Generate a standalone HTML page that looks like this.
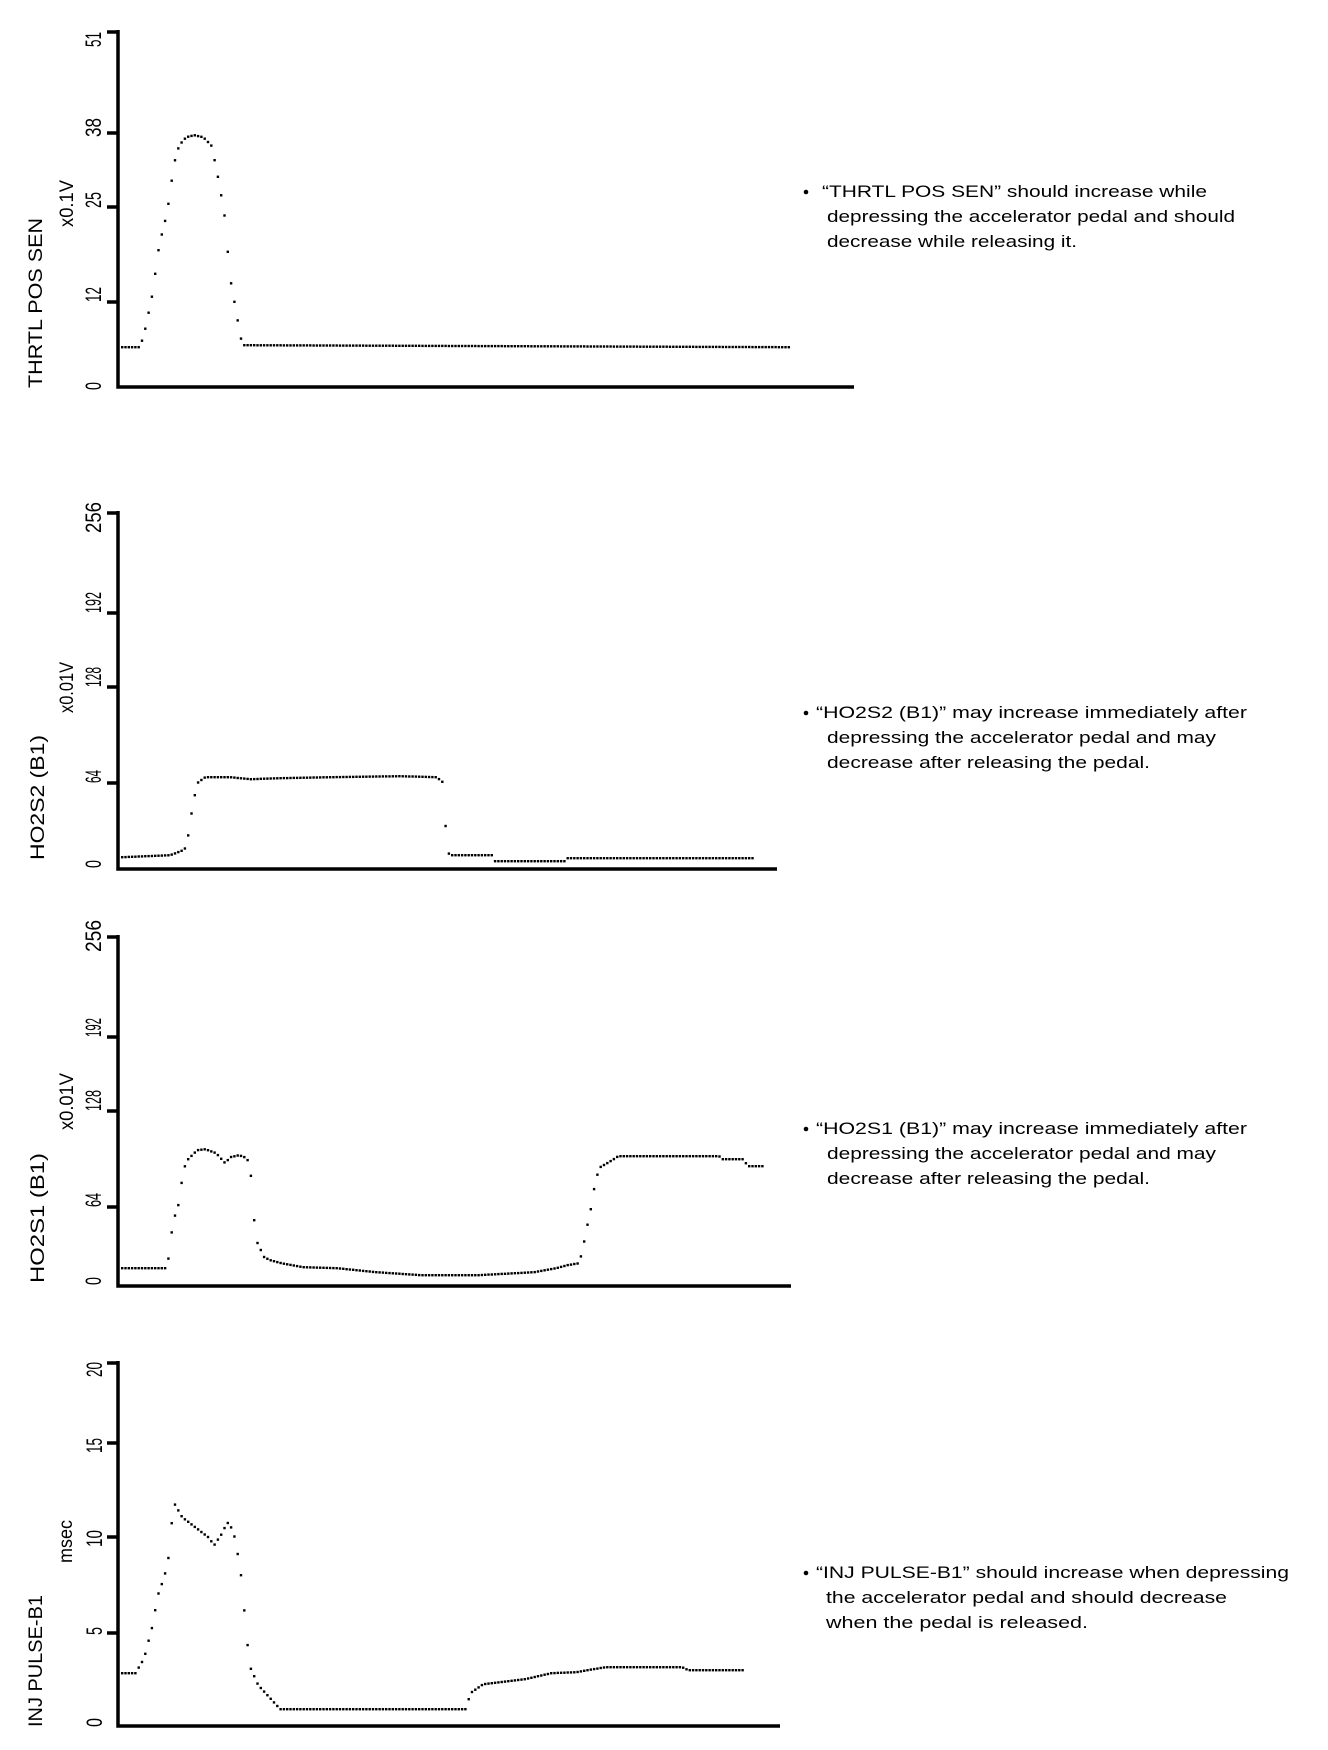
<!DOCTYPE html>
<html><head><meta charset="utf-8"><style>
html,body{margin:0;padding:0;background:#fff;}
svg{display:block;}
text{font-family:"Liberation Sans",sans-serif;fill:#000;}
</style></head><body>
<svg id="s" width="1328" height="1750" viewBox="0 0 1328 1750" xmlns="http://www.w3.org/2000/svg">
<g stroke="#000" stroke-width="3.5" fill="none">
<path d="M118,30 V387 H854 M107,32 H118 M107,133 H118 M107,207 H118 M107,302 H118"/>
<path d="M118,511 V869 H777 M107,513 H118 M107,613 H118 M107,687 H118 M107,783 H118"/>
<path d="M118,935 V1286 H791 M107,937 H118 M107,1037 H118 M107,1111 H118 M107,1207 H118"/>
<path d="M118,1361 V1726 H780 M107,1363 H118 M107,1443 H118 M107,1537 H118 M107,1633 H118"/>
</g>
<g font-size="22">
<text transform="translate(101,47) rotate(-90)" textLength="15" lengthAdjust="spacingAndGlyphs">51</text>
<text transform="translate(101,137) rotate(-90)" textLength="19" lengthAdjust="spacingAndGlyphs">38</text>
<text transform="translate(101,208) rotate(-90)" textLength="16" lengthAdjust="spacingAndGlyphs">25</text>
<text transform="translate(101,302) rotate(-90)" textLength="15" lengthAdjust="spacingAndGlyphs">12</text>
<text transform="translate(101,390) rotate(-90)" textLength="8" lengthAdjust="spacingAndGlyphs">0</text>
<text transform="translate(101,533) rotate(-90)" textLength="31" lengthAdjust="spacingAndGlyphs">256</text>
<text transform="translate(101,613) rotate(-90)" textLength="21" lengthAdjust="spacingAndGlyphs">192</text>
<text transform="translate(101,687) rotate(-90)" textLength="20" lengthAdjust="spacingAndGlyphs">128</text>
<text transform="translate(101,783) rotate(-90)" textLength="13" lengthAdjust="spacingAndGlyphs">64</text>
<text transform="translate(101,868) rotate(-90)" textLength="8" lengthAdjust="spacingAndGlyphs">0</text>
<text transform="translate(101,952) rotate(-90)" textLength="32" lengthAdjust="spacingAndGlyphs">256</text>
<text transform="translate(101,1037) rotate(-90)" textLength="19" lengthAdjust="spacingAndGlyphs">192</text>
<text transform="translate(101,1111) rotate(-90)" textLength="21" lengthAdjust="spacingAndGlyphs">128</text>
<text transform="translate(101,1207) rotate(-90)" textLength="14" lengthAdjust="spacingAndGlyphs">64</text>
<text transform="translate(101,1285) rotate(-90)" textLength="8" lengthAdjust="spacingAndGlyphs">0</text>
<text transform="translate(102,1377) rotate(-90)" textLength="15" lengthAdjust="spacingAndGlyphs">20</text>
<text transform="translate(102,1453) rotate(-90)" textLength="15" lengthAdjust="spacingAndGlyphs">15</text>
<text transform="translate(102,1547) rotate(-90)" textLength="17" lengthAdjust="spacingAndGlyphs">10</text>
<text transform="translate(102,1635) rotate(-90)" textLength="8" lengthAdjust="spacingAndGlyphs">5</text>
<text transform="translate(102,1727) rotate(-90)" textLength="9" lengthAdjust="spacingAndGlyphs">0</text>
</g>
<g font-size="19">
<text transform="translate(42,388) rotate(-90)" textLength="170" lengthAdjust="spacingAndGlyphs">THRTL POS SEN</text>
<text transform="translate(73,227) rotate(-90)" textLength="47" lengthAdjust="spacingAndGlyphs">x0.1V</text>
<text transform="translate(44,860) rotate(-90)" textLength="125" lengthAdjust="spacingAndGlyphs">HO2S2 (B1)</text>
<text transform="translate(73,713) rotate(-90)" textLength="51" lengthAdjust="spacingAndGlyphs">x0.01V</text>
<text transform="translate(44,1283) rotate(-90)" textLength="130" lengthAdjust="spacingAndGlyphs">HO2S1 (B1)</text>
<text transform="translate(73,1130) rotate(-90)" textLength="57" lengthAdjust="spacingAndGlyphs">x0.01V</text>
<text transform="translate(42,1727) rotate(-90)" textLength="132" lengthAdjust="spacingAndGlyphs">INJ PULSE-B1</text>
<text transform="translate(72,1563) rotate(-90)" textLength="43" lengthAdjust="spacingAndGlyphs">msec</text>
</g>
<g font-size="17">
<circle cx="806" cy="192" r="2.3"/>
<text x="822" y="197" textLength="385" lengthAdjust="spacingAndGlyphs">“THRTL POS SEN” should increase while</text>
<text x="827" y="222" textLength="408" lengthAdjust="spacingAndGlyphs">depressing the accelerator pedal and should</text>
<text x="827" y="247" textLength="250" lengthAdjust="spacingAndGlyphs">decrease while releasing it.</text>

<circle cx="806" cy="713" r="2.3"/>
<text x="816" y="718" textLength="431" lengthAdjust="spacingAndGlyphs">“HO2S2 (B1)” may increase immediately after</text>
<text x="827" y="743" textLength="389" lengthAdjust="spacingAndGlyphs">depressing the accelerator pedal and may</text>
<text x="827" y="768" textLength="323" lengthAdjust="spacingAndGlyphs">decrease after releasing the pedal.</text>

<circle cx="806" cy="1129" r="2.3"/>
<text x="816" y="1134" textLength="431" lengthAdjust="spacingAndGlyphs">“HO2S1 (B1)” may increase immediately after</text>
<text x="827" y="1159" textLength="389" lengthAdjust="spacingAndGlyphs">depressing the accelerator pedal and may</text>
<text x="827" y="1184" textLength="323" lengthAdjust="spacingAndGlyphs">decrease after releasing the pedal.</text>

<circle cx="806" cy="1573" r="2.3"/>
<text x="816" y="1578" textLength="473" lengthAdjust="spacingAndGlyphs">“INJ PULSE-B1” should increase when depressing</text>
<text x="826" y="1603" textLength="401" lengthAdjust="spacingAndGlyphs">the accelerator pedal and should decrease</text>
<text x="826" y="1628" textLength="262" lengthAdjust="spacingAndGlyphs">when the pedal is released.</text>
</g>
<g id="dots" fill="#000"></g>
</svg>
<script>
var curves=[
[[122,347],[140,347],[145,329],[152,295],[159,245],[167,212],[174,163],[179,145],[186,137],[194,135],[203,137],[211,145],[216,167],[224,212],[230,278],[238,323],[242,345],[791,347]],
[[122,857],[170,855],[183,850],[185,848],[189,831],[191,815],[194,798],[197,783],[205,777],[230,777],[250,779],[280,778],[330,777],[400,776],[436,777],[442,781],[444,793],[445,817],[446,839],[449,855],[492,855],[494,861],[565,861],[567,858],[753,858]],
[[122,1268],[167,1268],[169,1252],[171,1235],[174,1218],[179,1202],[181,1185],[184,1168],[187,1160],[197,1150],[205,1149],[216,1153],[225,1163],[230,1157],[239,1155],[247,1158],[251,1177],[253,1210],[256,1240],[264,1257],[270,1260],[281,1263],[303,1267],[337,1268],[376,1272],[421,1275],[478,1275],[534,1272],[556,1268],[567,1265],[579,1263],[583,1247],[586,1230],[590,1213],[593,1193],[597,1175],[600,1167],[612,1160],[618,1156],[719,1156],[722,1159],[744,1159],[747,1166],[764,1166]],
[[122,1673],[136,1673],[137,1670],[144,1658],[148,1642],[153,1623],[157,1597],[164,1577],[168,1560],[171,1527],[174,1503],[182,1517],[195,1527],[208,1537],[214,1545],[222,1533],[227,1522],[233,1530],[240,1567],[243,1597],[246,1633],[250,1667],[258,1685],[269,1697],[280,1709],[466,1709],[470,1693],[483,1684],[500,1682],[525,1679],[551,1673],[576,1672],[593,1669],[606,1667],[682,1667],[688,1670],[744,1670]]
];
var g=document.getElementById('dots'),h='';
curves.forEach(function(c){
  for(var x=c[0][0];x<=c[c.length-1][0];x+=3.3){
    for(var i=0;i<c.length-1;i++){if(x>=c[i][0]&&x<=c[i+1][0])break;}
    var a=c[i],b=c[i+1]||a,t=(b[0]===a[0])?0:(x-a[0])/(b[0]-a[0]);
    var y=a[1]+t*(b[1]-a[1]);
    h+='<rect x="'+(x-1).toFixed(1)+'" y="'+(y-1).toFixed(1)+'" width="2.4" height="2.4"/>';
  }
});
g.innerHTML=h;
</script>
</body></html>
